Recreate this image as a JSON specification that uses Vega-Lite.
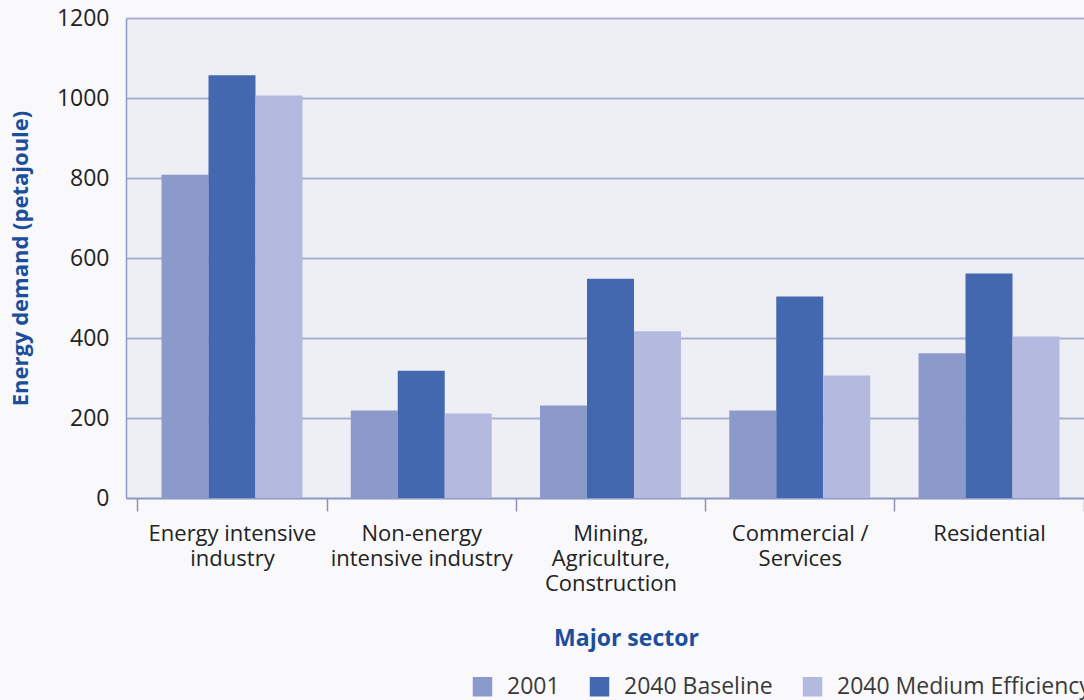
{
  "$schema": "https://vega.github.io/schema/vega-lite/v6.json",
  "autosize": {"type": "none"},
  "padding": {"left": 126, "top": 18, "right": -11, "bottom": 202},
  "width": 969,
  "height": 480,
  "background": "#f9f9fb",
  "config": {
    "font": "Open Sans",
    "view": {"fill": "#eeeef5", "stroke": null},
    "axis": {"labelFont": "Open Sans", "titleFont": "Open Sans"}
  },
  "data": {
    "values": [
      {"sector": "Energy intensive|industry", "series": "2001", "value": 808},
      {"sector": "Energy intensive|industry", "series": "2040 Baseline", "value": 1057},
      {"sector": "Energy intensive|industry", "series": "2040 Medium Efficiency", "value": 1006},
      {"sector": "Non-energy|intensive industry", "series": "2001", "value": 219},
      {"sector": "Non-energy|intensive industry", "series": "2040 Baseline", "value": 318},
      {"sector": "Non-energy|intensive industry", "series": "2040 Medium Efficiency", "value": 211},
      {"sector": "Mining,|Agriculture,|Construction", "series": "2001", "value": 231},
      {"sector": "Mining,|Agriculture,|Construction", "series": "2040 Baseline", "value": 548},
      {"sector": "Mining,|Agriculture,|Construction", "series": "2040 Medium Efficiency", "value": 417},
      {"sector": "Commercial /|Services", "series": "2001", "value": 219},
      {"sector": "Commercial /|Services", "series": "2040 Baseline", "value": 504},
      {"sector": "Commercial /|Services", "series": "2040 Medium Efficiency", "value": 306},
      {"sector": "Residential", "series": "2001", "value": 362},
      {"sector": "Residential", "series": "2040 Baseline", "value": 561},
      {"sector": "Residential", "series": "2040 Medium Efficiency", "value": 404}
    ]
  },
  "mark": {"type": "bar"},
  "encoding": {
    "x": {
      "field": "sector",
      "type": "nominal",
      "sort": null,
      "scale": {"paddingInner": 0, "paddingOuter": 0.06},
      "axis": {
        "title": "Major sector",
        "titleFontSize": 23,
        "titleFontWeight": "bold",
        "titleColor": "#1b4f9c",
        "titleX": 500,
        "titleY": 147,
        "titleAlign": "center",
        "titleBaseline": "alphabetic",
        "labelExpr": "split(datum.label, '|')",
        "labelAngle": 0,
        "labelFontSize": 22,
        "labelColor": "#222222",
        "labelLineHeight": 25,
        "labelPadding": 12,
        "labelLimit": 400,
        "tickBand": "extent",
        "tickSize": 13,
        "tickColor": "#8d93b0",
        "tickWidth": 1.5,
        "domainColor": "#8e9ac6",
        "domainWidth": 1.5,
        "grid": false
      }
    },
    "xOffset": {
      "field": "series",
      "type": "nominal",
      "scale": {"paddingInner": 0, "paddingOuter": 0.514}
    },
    "y": {
      "field": "value",
      "type": "quantitative",
      "scale": {"domain": [0, 1200], "nice": false},
      "axis": {
        "title": "Energy demand (petajoule)",
        "titleFontSize": 22,
        "titleFontWeight": "bold",
        "titleColor": "#1b4f9c",
        "titleX": -106,
        "titleY": 240,
        "titleAngle": 270,
        "titleAlign": "center",
        "titleBaseline": "middle",
        "values": [0, 200, 400, 600, 800, 1000, 1200],
        "format": "d",
        "labelFontSize": 23,
        "labelColor": "#222222",
        "labelPadding": 17,
        "ticks": false,
        "domainColor": "#8e9ac6",
        "domainWidth": 1.5,
        "gridColor": "#a7b0cc",
        "gridWidth": 2
      }
    },
    "color": {
      "field": "series",
      "type": "nominal",
      "scale": {
        "domain": ["2001", "2040 Baseline", "2040 Medium Efficiency"],
        "range": ["#8c99cb", "#4468b0", "#b4badf"]
      },
      "legend": {
        "title": null,
        "orient": "none",
        "direction": "horizontal",
        "legendX": 345,
        "legendY": 657,
        "padding": 0,
        "symbolType": "square",
        "symbolSize": 380,
        "symbolStrokeWidth": 0,
        "symbolOpacity": 1,
        "labelFont": "Open Sans",
        "labelFontSize": 23,
        "labelColor": "#3a3a3a",
        "labelOffset": 13,
        "columnPadding": 28,
        "labelLimit": 400
      }
    }
  }
}
